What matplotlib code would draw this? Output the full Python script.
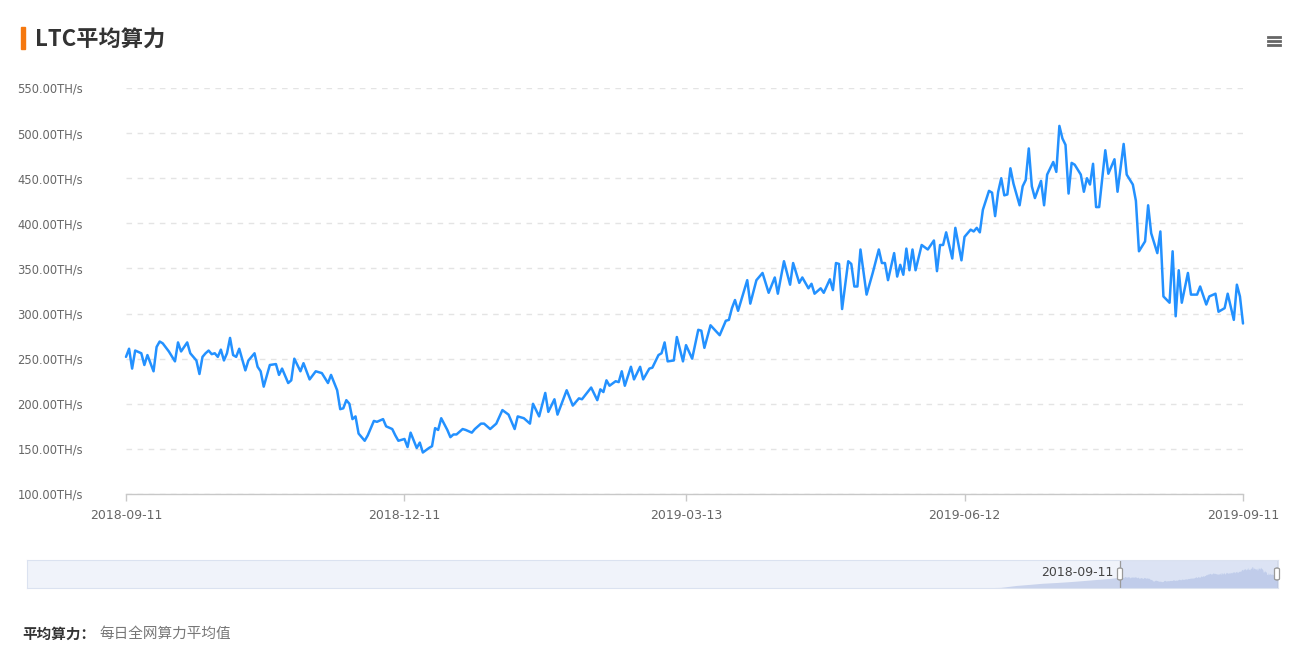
import numpy as np
import pandas as pd
import matplotlib
matplotlib.use('Agg')
import matplotlib.pyplot as plt
from matplotlib.patches import Rectangle, FancyBboxPatch
from matplotlib.lines import Line2D

# daily average LTC hashrate (days after 2018-09-11, TH/s)
start_date = '2018-09-11'
end_date = '2019-09-11'
days = [0, 1, 2, 3, 5, 6, 7, 9, 10, 11, 12, 14,
        16, 17, 18, 20, 21, 23, 24, 25, 26, 27, 28, 29,
        30, 31, 32, 33, 34, 35, 36, 37, 39, 40, 42, 43,
        44, 45, 47, 49, 50, 51, 53, 54, 55, 57, 58, 60,
        62, 64, 66, 67, 69, 70, 71, 72, 73, 74, 75, 76,
        78, 79, 81, 82, 84, 85, 87, 88, 89, 91, 92, 93,
        95, 96, 97, 99, 100, 101, 102, 103, 105, 106, 107, 108,
        110, 111, 113, 114, 116, 117, 119, 121, 123, 125, 127, 128,
        130, 132, 133, 135, 137, 138, 140, 141, 144, 146, 148, 149,
        152, 154, 155, 156, 157, 158, 160, 161, 162, 163, 165, 166,
        168, 169, 171, 172, 174, 175, 176, 177, 179, 180, 182, 183,
        185, 187, 188, 189, 191, 194, 196, 197, 198, 199, 200, 203,
        204, 206, 208, 210, 212, 213, 215, 217, 218, 220, 221, 223,
        224, 225, 227, 228, 230, 231, 232, 233, 234, 236, 237, 238,
        239, 240, 242, 244, 246, 247, 248, 249, 251, 252, 253, 254,
        255, 256, 257, 258, 260, 262, 264, 265, 266, 267, 268, 270,
        271, 273, 274, 276, 277, 278, 279, 280, 282, 283, 284, 285,
        286, 287, 288, 289, 290, 292, 293, 294, 295, 296, 297, 299,
        300, 301, 303, 304, 305, 306, 307, 308, 309, 310, 312, 313,
        314, 315, 316, 317, 318, 320, 321, 323, 324, 326, 327, 329,
        330, 331, 333, 334, 335, 337, 338, 339, 341, 342, 343, 344,
        345, 347, 348, 350, 351, 353, 354, 356, 357, 359, 360, 362,
        363, 364, 365]
hashrate = [252, 261, 239, 259, 256, 243, 254, 236, 263, 269, 267, 258,
            247, 268, 258, 268, 256, 248, 233, 252, 256, 259, 255, 256,
            252, 260, 248, 256, 273, 254, 252, 261, 237, 248, 256, 241,
            236, 219, 243, 244, 232, 239, 223, 226, 250, 236, 245, 227,
            236, 234, 223, 232, 215, 194, 195, 204, 200, 183, 186, 167,
            159, 165, 181, 180, 183, 175, 172, 165, 159, 161, 152, 168,
            151, 157, 146, 151, 153, 173, 171, 184, 171, 163, 166, 166,
            172, 171, 168, 172, 178, 178, 172, 178, 193, 188, 172, 186,
            184, 178, 200, 186, 212, 191, 205, 188, 215, 198, 206, 205,
            218, 204, 216, 213, 226, 220, 225, 224, 236, 220, 241, 227,
            241, 227, 239, 240, 254, 256, 268, 247, 248, 274, 247, 265,
            250, 282, 281, 262, 287, 276, 292, 293, 306, 315, 303, 337,
            311, 337, 345, 323, 340, 322, 358, 332, 356, 334, 340, 328,
            333, 322, 328, 323, 338, 326, 356, 355, 305, 358, 355, 330,
            330, 371, 321, 345, 371, 356, 356, 337, 367, 341, 354, 343,
            372, 348, 371, 348, 376, 371, 381, 347, 376, 376, 390, 361,
            395, 359, 385, 393, 391, 395, 390, 415, 436, 434, 408, 435,
            450, 431, 432, 461, 444, 420, 441, 448, 483, 441, 428, 447,
            420, 454, 468, 457, 508, 494, 487, 433, 467, 465, 454, 435,
            450, 443, 466, 418, 418, 481, 455, 471, 435, 488, 454, 443,
            425, 369, 380, 420, 389, 367, 391, 319, 312, 369, 297, 348,
            312, 345, 321, 321, 330, 310, 319, 322, 302, 306, 322, 293,
            332, 319, 289]

# earlier history, only shown in the zoom slider preview
hist_dates = ['2011-10-14', '2016-12-01', '2017-06-01', '2017-11-01', '2017-12-10',
              '2018-01-15', '2018-02-15', '2018-03-15', '2018-04-20', '2018-05-20',
              '2018-06-20', '2018-07-20', '2018-08-20']
hist_vals = [0, 1, 3, 6, 15, 60, 85, 110, 130, 150, 175, 200, 225]

y_ticks = [100, 150, 200, 250, 300, 350, 400, 450, 500, 550]
x_tick_labels = ['2018-09-11', '2018-12-11', '2019-03-13', '2019-06-12', '2019-09-11']

W, H = 1293, 665
cjk = ['Noto Sans CJK SC', 'DejaVu Sans']

fig = plt.figure(figsize=(W / 100, H / 100), dpi=100)
fig.patch.set_facecolor('white')

# main chart
start = pd.Timestamp(start_date)
end = pd.Timestamp(end_date)
dates = start + pd.to_timedelta(days, unit='D')

ax = fig.add_axes([126 / W, 1 - 494 / H, 1117 / W, 406 / H])
ax.plot(dates, hashrate, color='#2391ff', lw=1.8, solid_joinstyle='round',
        solid_capstyle='round', clip_on=False, zorder=3)
ax.set_xlim(start, end)
ax.set_ylim(100, 550)
ax.set_yticks(y_ticks)
ax.set_yticklabels(['%.2fTH/s' % v for v in y_ticks])
ax.set_xticks(pd.to_datetime(x_tick_labels))
ax.set_xticklabels(x_tick_labels)
ax.yaxis.grid(True, ls=(0, (4, 4)), color='#e4e4e4', lw=1)
ax.set_axisbelow(True)
for s in ['top', 'right', 'left']:
    ax.spines[s].set_visible(False)
ax.spines['bottom'].set_color('#c8c8c8')
ax.spines['bottom'].set_linewidth(1)
ax.tick_params(axis='y', length=0, pad=31, labelsize=8.3, labelcolor='#666666')
ax.tick_params(axis='x', length=5, width=1, color='#c8c8c8', pad=6,
               labelsize=9, labelcolor='#666666')

# title and marker bar
fig.patches.append(Rectangle((21 / W, 1 - 49 / H), 4 / W, 22 / H,
                             transform=fig.transFigure, color='#f5780f'))
fig.text(35 / W, 1 - 40 / H, 'LTC平均算力', fontsize=16, fontweight='bold',
         color='#333333', va='center', ha='left', family=cjk)

# menu icon
for yy in [37, 41, 45]:
    fig.add_artist(Line2D([1268 / W, 1280 / W], [1 - yy / H, 1 - yy / H],
                          transform=fig.transFigure, color='#666666', lw=2))

# zoom slider with preview
sl = fig.add_axes([27 / W, 1 - 588 / H, 1251 / W, 28 / H])
sl.set_facecolor('#f0f3fa')
prev_dates = list(pd.to_datetime(hist_dates)) + list(dates)
prev_vals = hist_vals + hashrate
sl.fill_between(prev_dates, prev_vals, 0, color='#c9d3ec', lw=0)
sl.axvspan(start, end, color='#a9bde8', alpha=0.28, lw=0)
sl.axvline(start, color='#9a9a9a', lw=0.9)
sl.axvline(end, color='#9a9a9a', lw=0.9)
sl.set_xlim(pd.Timestamp(hist_dates[0]), end)
sl.set_ylim(0, 655)
sl.set_xticks([])
sl.set_yticks([])
for s in sl.spines.values():
    s.set_color('#dbe2f0')

# slider handles
for hx in [1120, 1277]:
    fig.patches.append(FancyBboxPatch(((hx - 2.5) / W, 1 - 580 / H), 5 / W, 12 / H,
                                      boxstyle='round,pad=0,rounding_size=0.002',
                                      transform=fig.transFigure, facecolor='white',
                                      edgecolor='#9a9a9a', lw=0.9))
fig.text(1113 / W, 1 - 573 / H, '2018-09-11', fontsize=9, color='#444444',
         ha='right', va='center')

# footer note
fig.text(22 / W, 1 - 634 / H, '平均算力：', fontsize=10.5, fontweight='bold',
         color='#333333', ha='left', va='center', family=cjk)
fig.text(99 / W, 1 - 634 / H, '每日全网算力平均值', fontsize=10.5,
         color='#777777', ha='left', va='center', family=cjk)

fig.savefig('out.png', dpi=100)
